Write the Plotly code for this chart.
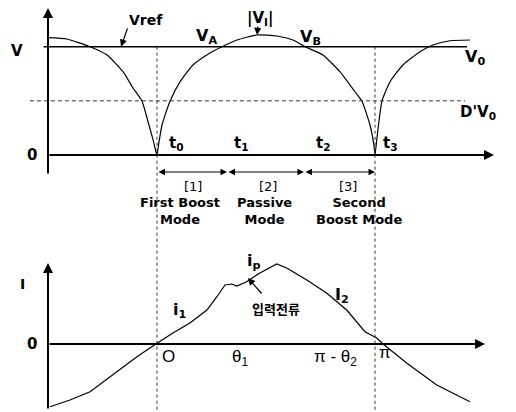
import plotly.graph_objects as go

# Phase axis is expressed in multiples of pi (0 = t0, 1 = t3).
# Rectified input voltage |V_I|, normalised so that Vref = V0 = 1.
vin_theta = [-0.500, -0.413, -0.307, -0.229, -0.156, -0.110, -0.069, -0.041, -0.018, -0.005, 0.000,
             0.005, 0.023, 0.060, 0.106, 0.165, 0.243, 0.298, 0.367, 0.459, 0.550, 0.624, 0.679,
             0.761, 0.839, 0.908, 0.940, 0.977, 0.995, 1.000,
             1.009, 1.032, 1.069, 1.128, 1.206, 1.266, 1.344, 1.436]
vin_mag = [1.083, 1.071, 1.000, 0.923, 0.769, 0.619, 0.499, 0.307, 0.139, 0.030, 0.000,
           0.065, 0.277, 0.499, 0.677, 0.831, 0.942, 1.000, 1.062, 1.108, 1.099, 1.062, 1.000,
           0.923, 0.769, 0.584, 0.499, 0.277, 0.092, 0.000,
           0.157, 0.499, 0.677, 0.831, 0.954, 1.016, 1.055, 1.062]

# Input current (입력전류), arbitrary units with the peak near 1.
cur_theta = [-0.491, -0.399, -0.307, -0.202, -0.092, -0.005, 0.073, 0.151, 0.229, 0.275, 0.312,
             0.343, 0.366, 0.411, 0.472, 0.549, 0.595, 0.687, 0.778, 0.870, 0.954, 1.008,
             1.037, 1.145, 1.283, 1.436]
cur_val = [-0.784, -0.700, -0.596, -0.388, -0.159, 0.000, 0.138, 0.263, 0.425, 0.591, 0.738,
           0.750, 0.725, 0.779, 0.888, 1.000, 0.950, 0.800, 0.638, 0.425, 0.154, 0.075,
           0.000, -0.238, -0.513, -0.721]

vref_level = 1.0
dv0_level = 0.5
interval_edges = [0.0, 0.321, 0.674, 1.0]
interval_tags = ["[1]", "[2]", "[3]"]
interval_tag_x = [0.165, 0.509, 0.876]
mode_names = ["First Boost<br>Mode", "Passive<br>Mode", "Second<br>Boost Mode"]
mode_x = [0.106, 0.493, 0.926]
t_names = ["t<sub>0</sub>", "t<sub>1</sub>", "t<sub>2</sub>", "t<sub>3</sub>"]
t_x = [0.046, 0.344, 0.720, 1.028]
phase_names = ["O", "θ<sub>1</sub>", "π - θ<sub>2</sub>", "π"]
phase_x = [0.055, 0.381, 0.821, 1.046]
phase_y = [-0.15, -0.17, -0.18, -0.10]

BOLD = "DejaVu Sans"
THIN = "Liberation Sans"
INK = "black"

fig = go.Figure()
fig.add_trace(go.Scatter(x=vin_theta, y=vin_mag, mode="lines",
                         line=dict(color=INK, width=1.2, shape="spline", smoothing=0.5),
                         hoverinfo="skip", showlegend=False))
fig.add_trace(go.Scatter(x=cur_theta, y=cur_val, mode="lines", yaxis="y2",
                         line=dict(color=INK, width=1.2),
                         hoverinfo="skip", showlegend=False))

shapes = [
    # Vref / V0 level
    dict(type="line", xref="x", yref="y", x0=-0.52, x1=1.422, y0=vref_level, y1=vref_level,
         line=dict(color=INK, width=1.6)),
    # D'V0 level
    dict(type="line", xref="x", yref="y", x0=-0.583, x1=1.413, y0=dv0_level, y1=dv0_level,
         line=dict(color="#333", width=1, dash="4px,3px")),
]
for xv in (0.0, 1.0):
    shapes.append(dict(type="line", xref="x", yref="y", x0=xv, x1=xv, y0=vref_level, y1=-2.37,
                       line=dict(color="#333", width=1, dash="dot")))

ann = []


def arrow(x, y, ax, ay, yref="y", width=2.0, head=2, size=1.0, both=False):
    d = dict(x=x, y=y, ax=ax, ay=ay, xref="x", yref=yref, axref="x", ayref=yref,
             text="", showarrow=True, arrowhead=head, arrowsize=size, arrowwidth=width,
             arrowcolor=INK, standoff=0, startstandoff=0)
    if both:
        d.update(arrowside="end+start", startarrowhead=head, startarrowsize=size)
    ann.append(d)


def label(x, y, text, size=14, family=BOLD, yref="y", xanchor="center", yanchor="middle",
          weight="bold"):
    ann.append(dict(x=x, y=y, xref="x", yref=yref, text=text,
                    showarrow=False, xanchor=xanchor, yanchor=yanchor,
                    font=dict(family=family, size=size, color=INK, weight=weight)))


# axes of the voltage panel
arrow(-0.5, 1.357, -0.5, -0.185)
arrow(1.546, 0.0, -0.5, 0.0)
# axes of the current panel
arrow(-0.5, 1.0125, -0.5, -0.825, yref="y2")
arrow(1.505, 0.0, -0.5, 0.0, yref="y2")

# mode interval arrows
for a, b in zip(interval_edges[:-1], interval_edges[1:]):
    arrow(b, -0.157, a, -0.157, width=1.0, head=2, size=1.3, both=True)

# pointer arrows
arrow(-0.165, 1.0, -0.133, 1.182, width=1.2, head=2, size=1.2)
arrow(0.459, 1.108, 0.463, 1.20, width=1.2, head=2, size=1.2)
arrow(0.417, 0.825, 0.486, 0.6125, yref="y2", width=1.2, head=2, size=1.2)

# voltage panel text
label(-0.642, 0.96, "V", size=15)
label(-0.573, 0.0, "0", size=15)
label(-0.05, 1.247, "Vref", size=14)
label(0.225, 1.095, "V<sub>A</sub>", size=16)
label(0.477, 1.265, "|V<sub>I</sub>|", size=15)
label(0.706, 1.088, "V<sub>B</sub>", size=16)
label(1.459, 0.90, "V<sub>0</sub>", size=16)
label(1.472, 0.395, "D'V<sub>0</sub>", size=15)
for tx, tn in zip(t_x, t_names):
    label(tx, 0.0, tn, size=15, xanchor="left", yanchor="bottom")
for tx, tn in zip(interval_tag_x, interval_tags):
    label(tx, -0.295, tn, size=13, weight="normal")
for mx, mn in zip(mode_x, mode_names):
    label(mx, -0.52, mn, size=13)

# current panel text
label(-0.615, 0.75, "I", size=14, yref="y2")
label(-0.573, 0.0, "0", size=15, yref="y2")
label(0.101, 0.425, "i<sub>1</sub>", size=16, yref="y2")
label(0.445, 1.03, "i<sub>p</sub>", size=16, yref="y2")
label(0.546, 0.45, "입력전류", size=13, family="Noto Sans CJK KR", yref="y2")
label(0.849, 0.61, "I<sub>2</sub>", size=16, yref="y2")
for px_, py_, pn in zip(phase_x, phase_y, phase_names):
    label(px_, py_, pn, size=17, family=THIN, yref="y2", weight="normal")

fig.update_layout(
    width=516, height=412,
    margin=dict(l=0, r=0, t=0, b=0),
    paper_bgcolor="white", plot_bgcolor="white",
    font=dict(family=BOLD, size=14, color=INK),
    xaxis=dict(range=[-157 / 218, (516 - 157) / 218], visible=False, fixedrange=True),
    yaxis=dict(range=[(155 - 412) / 108.3, 155 / 108.3], visible=False, domain=[0, 1]),
    yaxis2=dict(range=[(344 - 412) / 80, 344 / 80], visible=False, overlaying="y", anchor="x"),
    shapes=shapes,
    annotations=ann,
    showlegend=False,
)

fig.write_html("out.html")
